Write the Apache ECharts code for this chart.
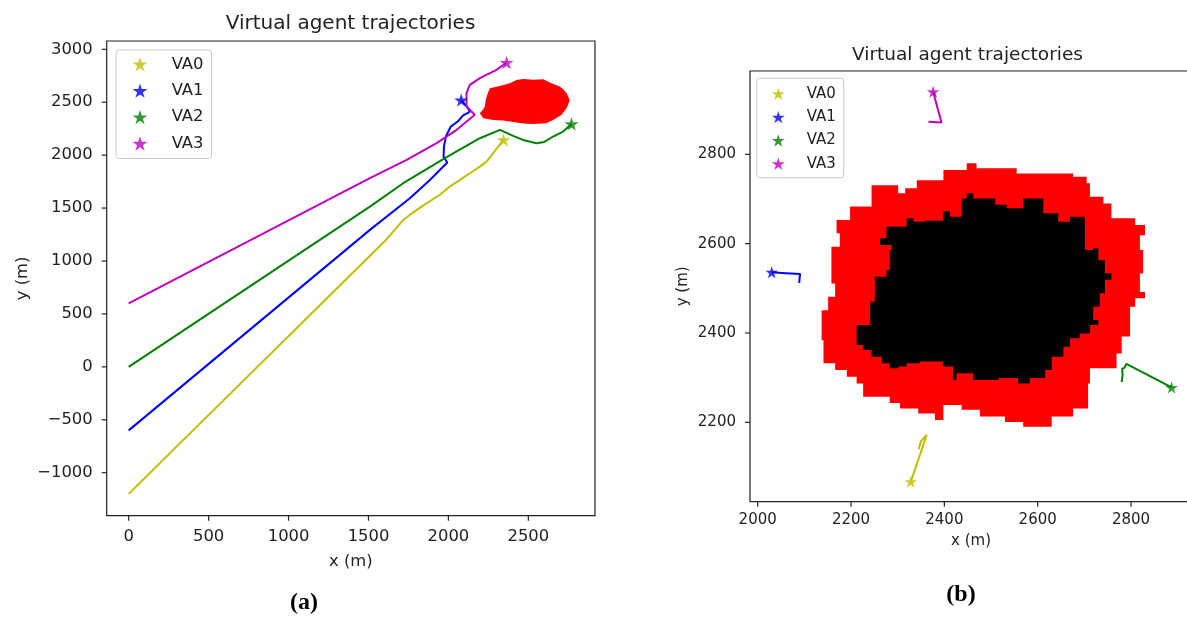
<!DOCTYPE html>
<html>
<head>
<meta charset="utf-8">
<script src="https://cdn.jsdelivr.net/npm/echarts@6/dist/echarts.min.js"></script>
<style>html,body{margin:0;padding:0;background:#fff;}#c{width:1187px;height:617px;}</style>
</head>
<body>
<div id="c"></div>
<script>
// ---------- data ----------
const agentNames = ['VA0', 'VA1', 'VA2', 'VA3'];

// (a) full trajectories
const trajA_VA0 = [[0,-1200],[1614,1206],[1718,1388],[1780,1460],[1832,1514],[1947,1626],[2009,1703],[2072,1766],[2134,1829],[2197,1892],[2239,1939],[2280,2018],[2311,2081],[2345,2145]];
const trajA_VA1 = [[0,-600],[1509,1294],[1759,1593],[1884,1766],[1993,1930],[1970,1985],[1972,2080],[1985,2180],[2015,2270],[2060,2320],[2092,2375],[2134,2410],[2115,2460],[2080,2520]];
const trajA_VA2 = [[0,0],[1509,1514],[1717,1735],[1989,1981],[2197,2160],[2322,2239],[2405,2182],[2467,2144],[2551,2113],[2600,2125],[2655,2176],[2717,2223],[2770,2295]];
const trajA_VA3 = [[0,600],[1509,1782],[1739,1955],[1926,2113],[2052,2239],[2165,2381],[2113,2459],[2113,2586],[2134,2664],[2197,2727],[2301,2806],[2364,2875]];
const blobA_red = [[2426,2711],[2470,2720],[2530,2712],[2593,2718],[2645,2680],[2697,2648],[2720,2620],[2739,2586],[2759,2522],[2750,2480],[2739,2444],[2707,2380],[2655,2333],[2613,2302],[2530,2295],[2470,2300],[2426,2308],[2343,2327],[2280,2333],[2218,2349],[2197,2397],[2215,2430],[2228,2459],[2232,2510],[2239,2553],[2259,2633],[2322,2654],[2384,2680]];

// (b) zoomed view
const trajB_VA0 = [[2345,2140],[2350,2158],[2362,2172],[2352,2140],[2328,2067]];
const trajB_VA1 = [[2089,2512],[2090,2525],[2091,2532],[2060,2534],[2030,2536]];
const trajB_VA2 = [[2780,2290],[2782,2305],[2781,2320],[2786,2322],[2790,2331],[2887,2278]];
const trajB_VA3 = [[2366,2873],[2394,2871],[2385,2905],[2376,2940]];
const blobB_red = [[2248,2731],[2301,2731],[2301,2713],[2316,2713],[2316,2724],[2341,2724],[2341,2742],[2398,2742],[2398,2765],[2448,2765],[2448,2780],[2469,2780],[2469,2769],[2555,2769],[2555,2757],[2676,2757],[2676,2750],[2705,2750],[2705,2735],[2712,2735],[2712,2705],[2741,2705],[2741,2690],[2758,2690],[2758,2657],[2809,2657],[2809,2642],[2830,2642],[2830,2619],[2819,2619],[2819,2586],[2826,2586],[2826,2533],[2819,2533],[2819,2492],[2830,2492],[2830,2478],[2809,2478],[2809,2459],[2798,2459],[2798,2392],[2780,2392],[2780,2354],[2769,2354],[2769,2321],[2712,2321],[2712,2287],[2708,2287],[2708,2231],[2676,2231],[2676,2213],[2630,2213],[2630,2190],[2569,2190],[2569,2201],[2530,2201],[2530,2213],[2476,2213],[2476,2228],[2437,2228],[2437,2239],[2398,2239],[2398,2205],[2380,2205],[2380,2220],[2344,2220],[2344,2231],[2305,2231],[2305,2243],[2283,2243],[2283,2257],[2226,2257],[2226,2287],[2212,2287],[2212,2302],[2191,2302],[2191,2317],[2166,2317],[2166,2332],[2141,2332],[2141,2384],[2137,2384],[2137,2451],[2151,2451],[2151,2481],[2166,2481],[2166,2511],[2158,2511],[2158,2593],[2176,2593],[2176,2623],[2169,2623],[2169,2653],[2198,2653],[2198,2683],[2244,2683],[2244,2731]];
const blobB_black = [[2448,2713],[2462,2713],[2462,2701],[2509,2701],[2509,2687],[2534,2687],[2534,2679],[2569,2679],[2569,2701],[2612,2701],[2612,2668],[2644,2668],[2644,2649],[2669,2649],[2669,2660],[2701,2660],[2701,2586],[2719,2586],[2719,2590],[2730,2590],[2730,2563],[2744,2563],[2744,2534],[2758,2534],[2758,2519],[2744,2519],[2744,2489],[2733,2489],[2733,2459],[2719,2459],[2719,2429],[2730,2429],[2730,2418],[2712,2418],[2712,2399],[2691,2399],[2691,2388],[2669,2388],[2669,2369],[2655,2369],[2655,2347],[2630,2347],[2630,2317],[2616,2317],[2616,2299],[2583,2299],[2583,2287],[2558,2287],[2558,2299],[2516,2299],[2516,2295],[2462,2295],[2462,2310],[2426,2310],[2426,2295],[2419,2295],[2419,2325],[2398,2325],[2398,2336],[2348,2336],[2348,2332],[2319,2332],[2319,2325],[2301,2325],[2301,2321],[2283,2321],[2283,2332],[2266,2332],[2266,2347],[2244,2347],[2244,2362],[2226,2362],[2226,2373],[2212,2373],[2212,2418],[2241,2418],[2241,2470],[2251,2470],[2251,2526],[2276,2526],[2276,2541],[2283,2541],[2283,2586],[2287,2586],[2287,2597],[2262,2597],[2262,2612],[2276,2612],[2276,2638],[2319,2638],[2319,2657],[2334,2657],[2334,2649],[2359,2649],[2359,2651],[2398,2651],[2398,2672],[2412,2672],[2412,2660],[2437,2660],[2437,2701],[2448,2701]];

// tick labels
const ticksA_x = [0, 500, 1000, 1500, 2000, 2500];
const ticksA_y = [-1000, -500, 0, 500, 1000, 1500, 2000, 2500, 3000];
const ticksB_x = [2000, 2200, 2400, 2600, 2800];
const ticksB_y = [2200, 2400, 2600, 2800];

// axis limits
const limA_x = [-137.6, 2917];
const limA_y = [-1406.2, 3078.4];
const limB_x = [1983.5, 2930.7];
const limB_y = [2022.3, 2986.5];

// ---------- styling ----------
const agentColors = ['#bfbf00', '#0000ff', '#008000', '#bf00bf'];
const STAR = 'path://M0,-100L22.45,-30.9L95.11,-30.9L36.33,11.8L58.78,80.9L0,38.2L-58.78,80.9L-36.33,11.8L-95.11,-30.9L-22.45,-30.9Z';
const FONT = 'DejaVu Sans';
const INK = '#222';
const TICK_LEN = 5;
const fmt = v => v < 0 ? '\u2212' + Math.abs(v) : String(v);

const trajA = [trajA_VA0, trajA_VA1, trajA_VA2, trajA_VA3];
const trajB = [trajB_VA0, trajB_VA1, trajB_VA2, trajB_VA3];

function polygonSeries(pts, color, gi, z) {
  return {
    type: 'custom', xAxisIndex: gi, yAxisIndex: gi, z: z, silent: true,
    data: [pts[0]], encode: {x: 0, y: 1},
    renderItem: function (params, api) {
      return {type: 'polygon', shape: {points: pts.map(p => api.coord(p))}, style: {fill: color, stroke: null}};
    }
  };
}

// outward tick marks positioned through the axis scales
function tickSeries(gi, ticks, dim, otherMin) {
  return {
    type: 'custom', xAxisIndex: gi, yAxisIndex: gi, z: 10, silent: true, clip: false,
    data: ticks.map(v => dim === 'x' ? [v, otherMin] : [otherMin, v]),
    encode: {x: 0, y: 1},
    renderItem: function (params, api) {
      const cs = params.coordSys;
      const p = api.coord([api.value(0), api.value(1)]);
      if (dim === 'x') {
        const y0 = cs.y + cs.height;
        return {type: 'line', shape: {x1: p[0], y1: y0, x2: p[0], y2: y0 + TICK_LEN}, style: {stroke: INK, lineWidth: 1.2}};
      }
      const x0 = cs.x;
      return {type: 'line', shape: {x1: x0 - TICK_LEN, y1: p[1], x2: x0, y2: p[1]}, style: {stroke: INK, lineWidth: 1.2}};
    }
  };
}

function valueAxis(gi, lim, ticks, fs, name, gap, isY, margin) {
  return {
    type: 'value', gridIndex: gi, min: lim[0], max: lim[1],
    position: isY ? 'left' : 'bottom',
    splitLine: {show: false},
    axisLine: {show: false, onZero: false},
    axisTick: {show: false},
    axisLabel: {customValues: ticks, formatter: fmt, color: INK, fontSize: fs, fontFamily: FONT, margin: margin},
    name: name, nameLocation: 'middle', nameGap: gap, nameRotate: isY ? 90 : 0,
    nameTextStyle: {color: INK, fontSize: fs, fontFamily: FONT}
  };
}

const series = [];
series.push(polygonSeries(blobA_red, '#ff0000', 0, 1));
series.push(polygonSeries(blobB_red, '#ff0000', 1, 1));
series.push(polygonSeries(blobB_black, '#000000', 1, 2));
[trajA, trajB].forEach((set, gi) => {
  set.forEach((tr, i) => {
    series.push({
      type: 'line', xAxisIndex: gi, yAxisIndex: gi, data: tr, showSymbol: false, symbol: 'none',
      lineStyle: {color: agentColors[i], width: 2}, z: 3, silent: true
    });
    series.push({
      type: 'scatter', name: agentNames[i], xAxisIndex: gi, yAxisIndex: gi,
      data: [tr[tr.length - 1]], symbol: STAR, symbolSize: gi === 0 ? [14, 13.3] : [12.5, 11.9],
      itemStyle: {color: agentColors[i]}, z: 4, silent: true
    });
  });
});
series.push(tickSeries(0, ticksA_x, 'x', limA_y[0]));
series.push(tickSeries(0, ticksA_y, 'y', limA_x[0]));
series.push(tickSeries(1, ticksB_x, 'x', limB_y[0]));
series.push(tickSeries(1, ticksB_y, 'y', limB_x[0]));

const legendData = agentNames.map((n, i) => ({name: n, icon: STAR, itemStyle: {color: agentColors[i]}}));

const chart = echarts.init(document.getElementById('c'), null, {renderer: 'canvas'});
chart.setOption({
  animation: false,
  backgroundColor: '#fff',
  textStyle: {fontFamily: FONT},
  grid: [
    {left: 106.7, top: 41, width: 488.3, height: 474.7, show: true, borderColor: INK, borderWidth: 1.2, containLabel: false, outerBoundsMode: 'none'},
    {left: 750, top: 71, width: 442, height: 430.7, show: true, borderColor: INK, borderWidth: 1.2, containLabel: false, outerBoundsMode: 'none'}
  ],
  xAxis: [
    valueAxis(0, limA_x, ticksA_x, 16.4, 'x (m)', 38, false, 13),
    valueAxis(1, limB_x, ticksB_x, 15, 'x (m)', 32, false, 11)
  ],
  yAxis: [
    valueAxis(0, limA_y, ticksA_y, 16.4, 'y (m)', 76, true, 14),
    valueAxis(1, limB_y, ticksB_y, 15, 'y (m)', 59, true, 14)
  ],
  legend: [
    {
      left: 116, top: 50, orient: 'vertical', data: legendData, selectedMode: false,
      itemWidth: 15, itemHeight: 15, itemGap: 10.4,
      padding: [6.3, 8, 7, 16.5],
      backgroundColor: 'rgba(255,255,255,0.8)', borderColor: '#cccccc', borderWidth: 1, borderRadius: 3,
      textStyle: {color: INK, fontSize: 16.4, fontFamily: FONT, padding: [0, 0, 0, 19.2]}
    },
    {
      left: 756.7, top: 78.3, orient: 'vertical', data: legendData, selectedMode: false,
      itemWidth: 13, itemHeight: 13, itemGap: 8.3,
      padding: [8, 8, 6.5, 15.1],
      backgroundColor: 'rgba(255,255,255,0.8)', borderColor: '#cccccc', borderWidth: 1, borderRadius: 3,
      textStyle: {color: INK, fontSize: 15, fontFamily: FONT, padding: [0, 0, 0, 16.9]}
    }
  ],
  graphic: [
    {type: 'text', x: 350.5, y: 23.5, silent: true, style: {text: 'Virtual agent trajectories', fontSize: 20, fontFamily: FONT, fill: INK, align: 'center', verticalAlign: 'middle', textAlign: 'center', textVerticalAlign: 'middle'}},
    {type: 'text', x: 967.5, y: 55.5, silent: true, style: {text: 'Virtual agent trajectories', fontSize: 18.5, fontFamily: FONT, fill: INK, align: 'center', verticalAlign: 'middle', textAlign: 'center', textVerticalAlign: 'middle'}},
    {type: 'text', x: 304, y: 603, silent: true, style: {text: '(a)', fontSize: 24, fontWeight: 'bold', fontFamily: 'Liberation Serif', fill: '#000', align: 'center', verticalAlign: 'middle', textAlign: 'center', textVerticalAlign: 'middle'}},
    {type: 'text', x: 961, y: 595, silent: true, style: {text: '(b)', fontSize: 24, fontWeight: 'bold', fontFamily: 'Liberation Serif', fill: '#000', align: 'center', verticalAlign: 'middle', textAlign: 'center', textVerticalAlign: 'middle'}}
  ],
  series: series
});
</script>
</body>
</html>
